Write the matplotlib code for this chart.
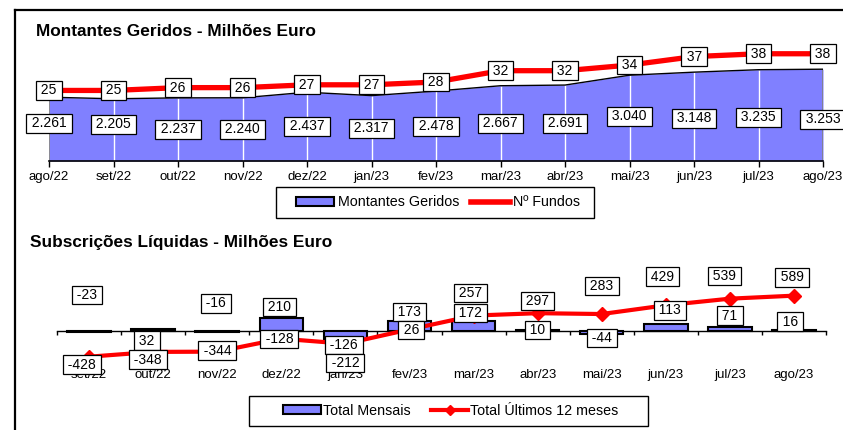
import matplotlib
matplotlib.use("Agg")
import matplotlib.pyplot as plt
import matplotlib.transforms as mtransforms
from matplotlib.patches import Patch, Rectangle
from matplotlib.lines import Line2D
import numpy as np

plt.rcParams['font.family'] = ['Liberation Sans', 'DejaVu Sans']

# dados
meses_top = ["ago/22", "set/22", "out/22", "nov/22", "dez/22", "jan/23", "fev/23",
             "mar/23", "abr/23", "mai/23", "jun/23", "jul/23", "ago/23"]
montantes = [2261, 2205, 2237, 2240, 2437, 2317, 2478, 2667, 2691, 3040, 3148, 3235, 3253]
n_fundos = [25, 25, 26, 26, 27, 27, 28, 32, 32, 34, 37, 38, 38]

meses_bot = meses_top[1:]
total_mensal = [-23, 32, -16, 210, -126, 173, 172, 10, -44, 113, 71, 16]
total_12m = [-428, -348, -344, -128, -212, 26, 257, 297, 283, 429, 539, 589]

# onde ficam as etiquetas (como no excel original)
mont_lbl_y = [1336, 1300, 1125, 1125, 1230, 1160, 1230, 1336, 1336, 1580, 1510, 1547, 1477]
mens_lbl_y = [600, -160, 460, 400, -233, 317, 300, 17, -117, 345, 255, 155]
mens_lbl_dx = [-0.03, -0.1, -0.02, -0.03, -0.02, 0, -0.05, 0, 0, 0.06, 0, -0.06]
tot_lbl_y = [-560, -475, -325, -133, -533, 17, 633, 500, 750, 908, 917, 892]
tot_lbl_dx = [-0.11, -0.08, 0, -0.03, 0, 0.03, -0.05, 0, 0, -0.05, -0.08, -0.03]

W, H = 843, 430
fig = plt.figure(figsize=(W / 100, H / 100), dpi=100)


def px(x0, y0, x1, y1):
    return [x0 / W, 1 - y1 / H, (x1 - x0) / W, (y1 - y0) / H]


def moldura(x0, y0, x1, y1):
    fig.add_artist(Rectangle((x0 / W, 1 - y1 / H), (x1 - x0) / W, (y1 - y0) / H,
                             transform=fig.transFigure, fc="white", ec="black", lw=1))


def etiq(v):
    return "\u2009" + str(v) + "\u2009"


azul = "#8080ff"
verm = "#ff0000"
caixa = dict(boxstyle="square,pad=0.17", fc="white", ec="black", lw=0.9)
fs = 9.5
fs_lbl = 10

# ---- grafico de cima
ax = fig.add_axes(px(49, 34, 823, 161))
x = np.arange(len(meses_top))
ax.fill_between(x, montantes, color=azul, lw=0)
ax.vlines(x[1:-1], 0, montantes[1:-1], color="white", lw=1)
ax.vlines([x[0], x[-1]], 0, [montantes[0], montantes[-1]], color="#808080", lw=1.2)
ax.plot(x, montantes, color="black", lw=1)
ax.set_xlim(0, len(x) - 1)
ax.set_ylim(0, 4500)
for s in ["top", "left", "right"]:
    ax.spines[s].set_visible(False)
ax.spines["bottom"].set_linewidth(1.2)
ax.set_yticks([])
ax.set_xticks(x, meses_top)
ax.tick_params(axis="x", length=4, width=1, labelsize=fs, pad=3)
for i, v in enumerate(montantes):
    ax.text(i, mont_lbl_y[i], etiq(f"{v:,}".replace(",", ".")), ha="center",
            va="center", fontsize=fs_lbl, bbox=caixa, zorder=5, clip_on=False)

ax2 = ax.twinx()
ax2.plot(x, n_fundos, color=verm, lw=3.8, solid_capstyle="butt")
ax2.set_ylim(0, 45)
ax2.set_yticks([])
for s in ax2.spines.values():
    s.set_visible(False)
for i, v in enumerate(n_fundos):
    ax2.text(i, v, etiq(v), ha="center", va="center", fontsize=fs_lbl, bbox=caixa,
             zorder=5, clip_on=False)

fig.text(36 / W, 1 - 32 / H, "Montantes Geridos - Milhões Euro", fontsize=12.4,
         fontweight="bold", va="center", ha="left")

moldura(276, 187, 594, 218)
fig.legend([Patch(fc=azul, ec="black", lw=1.5), Line2D([], [], color=verm, lw=4)],
           ["Montantes Geridos", "Nº Fundos"], loc="center",
           bbox_to_anchor=(438 / W, 1 - 202.5 / H), ncol=2, frameon=False,
           fontsize=10.3, handlelength=2.7, handleheight=0.6, handletextpad=0.25,
           columnspacing=0.85, borderpad=0.2)

# ---- grafico de baixo
bx = fig.add_axes(px(57, 280, 826, 366))
xb = np.arange(len(meses_bot))
bx.bar(xb, total_mensal, width=0.68, color=azul, edgecolor="black", lw=1.5, zorder=2)
bx.plot(xb, total_12m, color=verm, lw=3, marker="D", ms=7, zorder=3)
bx.set_xlim(-0.5, len(xb) - 0.5)
bx.set_ylim(-583, 850)
for s in ["top", "left", "right"]:
    bx.spines[s].set_visible(False)
bx.spines["bottom"].set_position(("data", 0))
bx.spines["bottom"].set_linewidth(1)
bx.spines["bottom"].set_zorder(1)
bx.set_yticks([])
bx.set_xticks(np.arange(-0.5, len(xb), 1))
bx.tick_params(axis="x", length=3, width=1, labelbottom=False)
trans = mtransforms.blended_transform_factory(bx.transData, bx.transAxes)
for i, m in enumerate(meses_bot):
    bx.text(i, -0.04, m, transform=trans, ha="center", va="top", fontsize=fs)
for i, v in enumerate(total_mensal):
    bx.text(i + mens_lbl_dx[i], mens_lbl_y[i], etiq(v), ha="center", va="center",
            fontsize=fs_lbl, bbox=caixa, zorder=5, clip_on=False)
for i, v in enumerate(total_12m):
    bx.text(i + tot_lbl_dx[i], tot_lbl_y[i], etiq(v), ha="center", va="center",
            fontsize=fs_lbl, bbox=caixa, zorder=6, clip_on=False)

fig.text(30 / W, 1 - 243 / H, "Subscrições Líquidas - Milhões Euro", fontsize=12.4,
         fontweight="bold", va="center", ha="left")

moldura(249, 396, 648, 426)
fig.legend([Patch(fc=azul, ec="black", lw=1.5),
            Line2D([], [], color=verm, lw=3, marker="D", ms=5)],
           ["Total Mensais", "Total Últimos 12 meses"], loc="center",
           bbox_to_anchor=(451 / W, 1 - 411 / H), ncol=2, frameon=False,
           fontsize=10.3, handlelength=2.6, handleheight=0.6, handletextpad=0.15,
           columnspacing=1.45, borderpad=0.2)

# moldura geral
fig.add_artist(Line2D([15 / W, 1], [1 - 10 / H, 1 - 10 / H], color="black", lw=1.6))
fig.add_artist(Line2D([15 / W, 15 / W], [0, 1 - 10 / H], color="black", lw=1.6))

fig.savefig("out.png", dpi=100)
